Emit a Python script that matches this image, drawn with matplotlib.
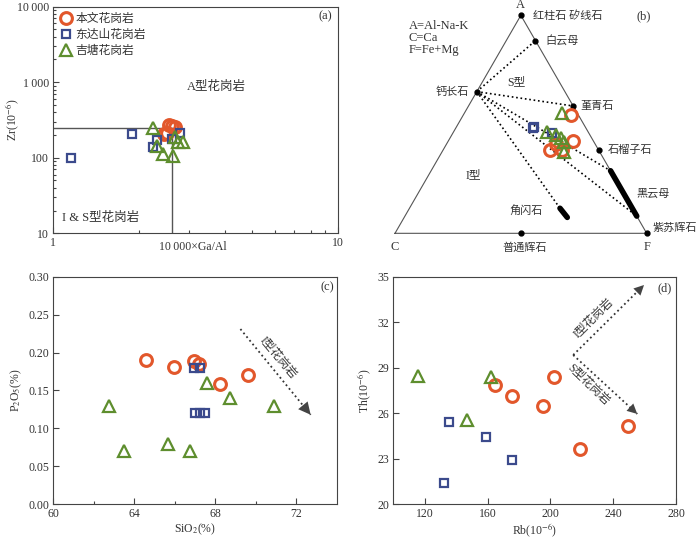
import numpy as np
import matplotlib
matplotlib.use('Agg')
import matplotlib.pyplot as plt
from matplotlib.ticker import FixedLocator, FixedFormatter, NullFormatter, FormatStrFormatter

plt.rcParams['font.family'] = ['Liberation Serif', 'Noto Sans CJK SC']
plt.rcParams['mathtext.fontset'] = 'stix'
plt.rcParams['font.size'] = 9

ORANGE = '#e2572b'
BLUE = '#3b4a8c'
GREEN = '#5e8e2e'
INK = '#333333'

group_names = ['本文花岗岩', '东达山花岗岩', '吉塘花岗岩']

# (a) 10000*Ga/Al vs Zr
a_gaal_ours = [2.55, 2.68, 2.45, 2.60, 2.50]
a_zr_ours = [275, 255, 205, 262, 212]
a_gaal_dds = [1.15, 1.89, 2.24, 2.32, 2.60, 2.79]
a_zr_dds = [98, 205, 140, 172, 175, 210]
a_gaal_jt = [2.23, 2.32, 2.42, 2.64, 2.67, 2.74, 2.86]
a_zr_jt = [245, 145, 112, 105, 190, 163, 163]
a_gaal_limit = 2.6
a_zr_limit = 250

# (b) ACF ternary, (A, C, F) fractions
b_ours = [(0.543, 0.030, 0.427), (0.425, 0.079, 0.496), (0.384, 0.192, 0.424),
          (0.410, 0.155, 0.435), (0.382, 0.146, 0.472)]
b_dds = [(0.481, 0.213, 0.306), (0.490, 0.201, 0.309), (0.458, 0.147, 0.395)]
b_jt = [(0.550, 0.062, 0.388), (0.467, 0.161, 0.372), (0.449, 0.135, 0.416),
        (0.437, 0.122, 0.441), (0.421, 0.119, 0.460), (0.371, 0.143, 0.486)]
anorthite = (0.65, 0.35, 0.0)
muscovite = (0.884, 0.0, 0.116)
cordierite = (0.584, 0.0, 0.416)
garnet = (0.382, 0.0, 0.618)
augite = (0.0, 0.5, 0.5)
biotite = [(0.287, 0.0, 0.713), (0.079, 0.0, 0.921)]
hornblende = [(0.115, 0.287, 0.598), (0.073, 0.279, 0.648)]

# (c) SiO2 vs P2O5
c_si_ours = [64.6, 65.95, 66.95, 67.2, 68.25, 69.6]
c_p_ours = [0.190, 0.181, 0.189, 0.185, 0.159, 0.171]
c_si_dds = [66.95, 67.25, 67.0, 67.25, 67.5]
c_p_dds = [0.180, 0.180, 0.120, 0.120, 0.120]
c_si_jt = [62.77, 63.47, 65.66, 66.73, 67.59, 68.75, 70.89]
c_p_jt = [0.13, 0.07, 0.08, 0.07, 0.16, 0.14, 0.13]

# (d) Rb vs Th
d_rb_ours = [164.5, 175.5, 195.3, 202.1, 218.7, 249.4]
d_th_ours = [27.85, 27.15, 26.47, 28.36, 23.64, 25.18]
d_rb_dds = [135.7, 159.1, 175.5, 132.3]
d_th_dds = [25.39, 24.41, 22.92, 21.43]
d_rb_jt = [116.0, 162.1, 146.8]
d_th_jt = [28.46, 28.36, 25.55]

sty_ours = dict(marker='o', ms=8.5, mfc='none', mec=ORANGE, mew=2.2, ls='none')
sty_dds = dict(marker='s', ms=5.5, mfc='none', mec=BLUE, mew=1.6, ls='none')
sty_jt = dict(marker='^', ms=8, mfc='none', mec=GREEN, mew=1.6, ls='none')

fig = plt.figure(figsize=(7, 5.39), dpi=100)


def style_axes(ax, size=8.5):
    for s in ax.spines.values():
        s.set_color('#444444')
        s.set_linewidth(0.8)
    ax.tick_params(which='both', direction='in', top=False, right=False,
                   colors='#444444', labelcolor=INK, labelsize=size, width=0.8, pad=3)
    ax.tick_params(which='major', length=4)
    ax.tick_params(which='minor', length=2.5)


def arrow_head(ax, start, end, scale):
    ax.plot([start[0], end[0]], [start[1], end[1]], ls=':', color=INK, lw=1.3)
    t = 0.12
    pre = (end[0] - t * (end[0] - start[0]), end[1] - t * (end[1] - start[1]))
    ax.annotate('', xy=end, xytext=pre,
                arrowprops=dict(arrowstyle='-|>', color='#444444', lw=0,
                                mutation_scale=scale, shrinkA=0, shrinkB=0))


# ---- (a)
ax = fig.add_axes([0.0762, 0.5672, 0.407, 0.4204])
ax.set_xscale('log')
ax.set_yscale('log')
ax.set_xlim(1, 10)
ax.set_ylim(10, 10000)
ax.plot([1, a_gaal_limit], [a_zr_limit, a_zr_limit], color='#555555', lw=1)
ax.plot([a_gaal_limit, a_gaal_limit], [10, a_zr_limit], color='#555555', lw=1)
ax.plot(a_gaal_ours, a_zr_ours, label=group_names[0], **sty_ours)
ax.plot(a_gaal_dds, a_zr_dds, label=group_names[1], **sty_dds)
ax.plot(a_gaal_jt, a_zr_jt, label=group_names[2], **sty_jt)
ax.yaxis.set_major_locator(FixedLocator([10, 100, 1000, 10000]))
ax.yaxis.set_major_formatter(FixedFormatter(['10', '100', '1\u2009000', '10\u2009000']))
ax.xaxis.set_major_locator(FixedLocator([1, 10]))
ax.xaxis.set_major_formatter(FixedFormatter(['1', '10']))
ax.xaxis.set_minor_formatter(NullFormatter())
ax.yaxis.set_minor_formatter(NullFormatter())
style_axes(ax, 8.5)
ax.text(0.49, -0.035, '10\u2009000×Ga/Al', transform=ax.transAxes, ha='center', va='top',
        color=INK, fontsize=8.5)
ax.set_ylabel('Zr(10$^{-6}$)', color=INK, fontsize=8.5)
ax.yaxis.set_label_coords(-0.115, 0.5)
ax.text(0.574, 0.646, 'A型花岗岩', transform=ax.transAxes, ha='center', va='center', color=INK)
ax.text(0.164, 0.068, 'I & S型花岗岩', transform=ax.transAxes, ha='center', va='center', color=INK)
ax.text(0.953, 0.959, '(a)', transform=ax.transAxes, ha='center', va='center', color=INK)
leg = ax.legend(loc='upper left', frameon=False, handlelength=1.0, handletextpad=0.3,
                labelspacing=0.35, borderaxespad=0.15, fontsize=8.5)
for t in leg.get_texts():
    t.set_color(INK)

# ---- (b)
axb = fig.add_axes([0.5, 1 - 260 / 539, 0.5, 260 / 539])
axb.set_xlim(-0.1788, 1.2118)
axb.set_ylim(-0.106, 0.9269)
axb.axis('off')
H = np.sqrt(3) / 2


def tern(p):
    a, c, f = p
    s = a + c + f
    a, f = a / s, f / s
    return f + a / 2, a * H


verts = [tern((0, 1, 0)), tern((0, 0, 1)), tern((1, 0, 0)), tern((0, 1, 0))]
axb.plot([v[0] for v in verts], [v[1] for v in verts], color='#555555', lw=0.8)

ax0 = tern(anorthite)
for target in [muscovite, cordierite, biotite[0], biotite[1], hornblende[0]]:
    tx, ty = tern(target)
    axb.plot([ax0[0], tx], [ax0[1], ty], ls=':', color='black', lw=1.2)
for seg in [biotite, hornblende]:
    p1, p2 = tern(seg[0]), tern(seg[1])
    axb.plot([p1[0], p2[0]], [p1[1], p2[1]], color='black', lw=4, solid_capstyle='round')

minerals = [
    ((1, 0, 0), '红柱石 矽线石', (8.5, 0), 'left'),
    (muscovite, '白云母', (7, 0), 'left'),
    (anorthite, '钙长石', (-6, 0), 'right'),
    (cordierite, '堇青石', (5, 0), 'left'),
    (garnet, '石榴子石', (6.5, 0), 'left'),
    (augite, '普通辉石', (3, -10), 'center'),
    ((0, 0, 1), '紫苏辉石', (4.5, 3.8), 'left'),
]
for p, name, off, ha in minerals:
    x, y = tern(p)
    axb.plot(x, y, 'o', color='black', ms=3.5)
    axb.annotate(name, (x, y), xytext=off, textcoords='offset points',
                 ha=ha, va='center', color=INK, fontsize=8)

bx = [(tern(biotite[0])[0] + tern(biotite[1])[0]) / 2, (tern(biotite[0])[1] + tern(biotite[1])[1]) / 2]
axb.annotate('黑云母', bx, xytext=(9, 0), textcoords='offset points', ha='left', va='center',
             color=INK, fontsize=8)
hx = [(tern(hornblende[0])[0] + tern(hornblende[1])[0]) / 2,
      (tern(hornblende[0])[1] + tern(hornblende[1])[1]) / 2]
axb.annotate('角闪石', hx, xytext=(-27, 2), textcoords='offset points', ha='center', va='center',
             color=INK, fontsize=8)

for p, name, off in [((1, 0, 0), 'A', (0, 7.7)), ((0, 1, 0), 'C', (0, -9.6)), ((0, 0, 1), 'F', (0, -9.6))]:
    axb.annotate(name, tern(p), xytext=off, textcoords='offset points', ha='center', va='center',
                 color=INK, fontsize=9)

sx, sy = tern((0.695, 0.169, 0.136))
axb.text(sx, sy, 'S型', ha='center', va='center', color=INK, fontsize=8.5)
ix, iy = tern((0.267, 0.556, 0.177))
axb.text(ix, iy, 'I型', ha='center', va='center', color=INK, fontsize=8.5)

for pts, sty in [(b_ours, sty_ours), (b_dds, sty_dds), (b_jt, sty_jt)]:
    xy = np.array([tern(p) for p in pts])
    axb.plot(xy[:, 0], xy[:, 1], **sty)

for i, s in enumerate(['A=Al-Na-K', 'C=Ca', 'F=Fe+Mg']):
    axb.text(0.167, 0.9 - i * 0.046, s, transform=axb.transAxes, ha='left', va='center',
             color=INK, fontsize=9)
axb.text(0.838, 0.938, '(b)', transform=axb.transAxes, ha='center', va='center', color=INK)

# ---- (c)
axc = fig.add_axes([0.0762, 0.0644, 0.4049, 0.4223])
axc.set_xlim(60, 74)
axc.set_ylim(0, 0.30)
axc.plot(c_si_ours, c_p_ours, **sty_ours)
axc.plot(c_si_dds, c_p_dds, **sty_dds)
axc.plot(c_si_jt, c_p_jt, **sty_jt)
axc.xaxis.set_major_locator(FixedLocator([60, 64, 68, 72]))
axc.xaxis.set_minor_locator(FixedLocator([62, 66, 70]))
axc.yaxis.set_major_locator(FixedLocator(np.arange(0, 0.31, 0.05)))
axc.yaxis.set_major_formatter(FormatStrFormatter('%.2f'))
style_axes(axc)
axc.set_xlabel('SiO$_2$(%)', color=INK, fontsize=8.5, labelpad=1)
axc.set_ylabel('P$_2$O$_5$(%)', color=INK, fontsize=8.5, labelpad=3)
arrow_head(axc, (69.24, 0.231), (72.71, 0.118), 22)
axc.text(71.12, 0.1924, 'I型花岗岩', rotation=-50, ha='center', va='center', color=INK, fontsize=8.5)
axc.text(0.965, 0.953, '(c)', transform=axc.transAxes, ha='center', va='center', color=INK)

# ---- (d)
axd = fig.add_axes([0.5619, 0.0644, 0.4039, 0.4226])
axd.set_xlim(100, 280)
axd.set_ylim(20, 35)
axd.plot(d_rb_ours, d_th_ours, **sty_ours)
axd.plot(d_rb_dds, d_th_dds, **sty_dds)
axd.plot(d_rb_jt, d_th_jt, **sty_jt)
axd.xaxis.set_major_locator(FixedLocator([120, 160, 200, 240, 280]))
axd.yaxis.set_major_locator(FixedLocator([20, 23, 26, 29, 32, 35]))
style_axes(axd)
axd.set_xlabel('Rb(10$^{-6}$)', color=INK, fontsize=8.5, labelpad=1)
axd.set_ylabel('Th(10$^{-6}$)', color=INK, fontsize=8.5, labelpad=3)
start = (214.5, 29.83)
arrow_head(axd, start, (259.6, 34.44), 18)
arrow_head(axd, start, (255.3, 25.95), 18)
axd.text(227.4, 32.24, 'I型花岗岩', rotation=45, ha='center', va='center', color=INK, fontsize=8.5)
axd.text(224.2, 27.86, 'S型花岗岩', rotation=-44, ha='center', va='center', color=INK, fontsize=8.5)
axd.text(0.961, 0.948, '(d)', transform=axd.transAxes, ha='center', va='center', color=INK)

fig.savefig('out.png', dpi=100)
